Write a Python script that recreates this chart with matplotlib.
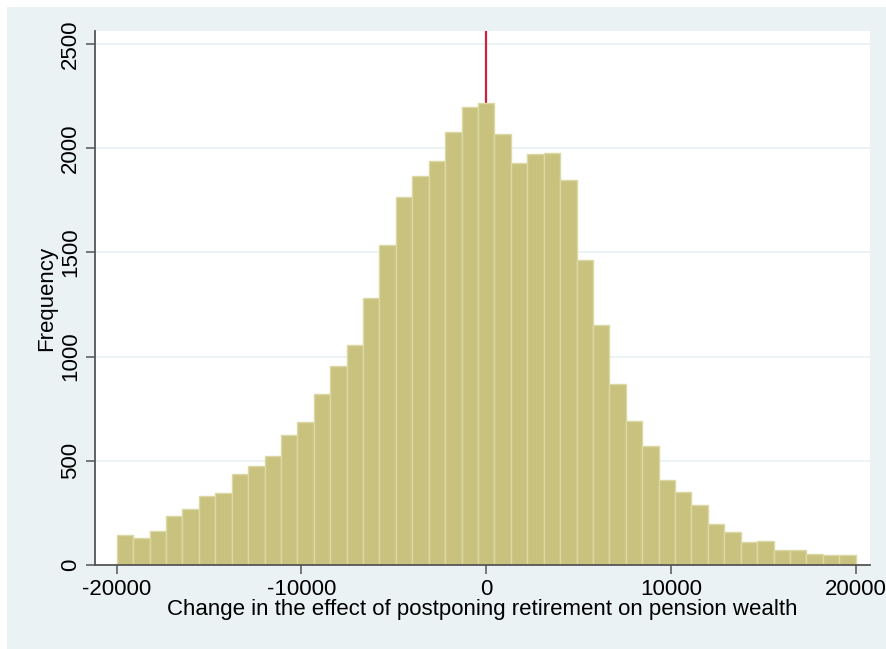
import matplotlib

matplotlib.use("Agg")
import matplotlib.pyplot as plt
import numpy as np
from matplotlib.patches import Rectangle

# histogram: 45 bins from -20000 to 20000
bin_lo = -20000
bin_hi = 20000
counts = [
    142, 131, 165, 234, 269, 330, 347, 438, 477, 525,
    622, 686, 819, 953, 1054, 1283, 1534, 1764, 1864, 1940,
    2076, 2195, 2217, 2067, 1931, 1974, 1979, 1849, 1465, 1153,
    870, 690, 570, 409, 352, 287, 199, 158, 110, 116,
    73, 73, 55, 47, 47,
]
y_ticks = [0, 500, 1000, 1500, 2000, 2500]
x_ticks = [-20000, -10000, 0, 10000, 20000]

plt.rcParams["font.family"] = ["Liberation Sans", "DejaVu Sans"]
plt.rcParams["axes.unicode_minus"] = False

W, H = 886, 649
fig = plt.figure(figsize=(W / 100, H / 100), dpi=100, facecolor="white")
fig.patches.append(
    Rectangle((7 / W, 0), 1 - 7 / W, 1 - 7 / H, transform=fig.transFigure,
              facecolor="#eaf2f3", edgecolor="none", zorder=-5)
)

ax = fig.add_axes([95 / W, 1 - 565 / H, 775 / W, 534 / H])
ax.set_facecolor("white")

edges = np.linspace(bin_lo, bin_hi, len(counts) + 1)
width = edges[1] - edges[0]
ax.bar(edges[:-1], counts, width=width, align="edge",
       color="#c9c27f", edgecolor="#dcd8a4", linewidth=1.0, zorder=2)
ax.axvline(0, color="#d0203f", lw=1.6, zorder=1)

ax.set_xlim(-21175, 20774)
ax.set_ylim(0, 2562)
ax.set_xticks(x_ticks)
ax.set_yticks(y_ticks)
ax.yaxis.grid(True, color="#eaf2f3", lw=1.3, zorder=0)
ax.set_axisbelow(True)

for s in ["top", "right"]:
    ax.spines[s].set_visible(False)
for s in ["left", "bottom"]:
    ax.spines[s].set_color("#555555")
    ax.spines[s].set_linewidth(1.3)

ax.tick_params(axis="both", length=6.5, width=1.1, color="#555555",
               labelsize=16, pad=3.5)
ax.tick_params(axis="y", labelrotation=90)
for lab in ax.get_yticklabels():
    lab.set_va("center")

ax.set_xlabel("Change in the effect of postponing retirement on pension wealth",
              fontsize=16, labelpad=-1)
ax.set_ylabel("Frequency", fontsize=16, labelpad=2)

fig.savefig("out.png", dpi=100, facecolor=fig.get_facecolor())
